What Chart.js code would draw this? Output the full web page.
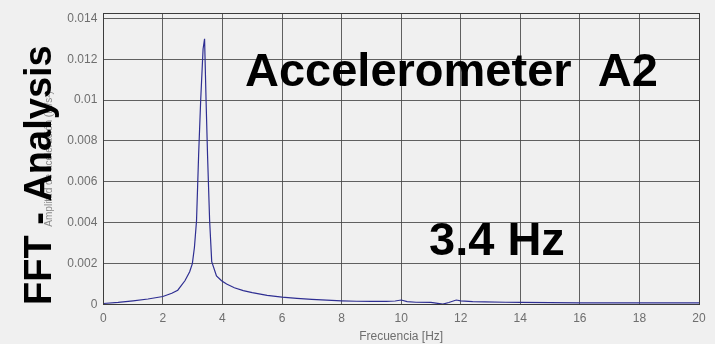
<!DOCTYPE html>
<html>
<head>
<meta charset="utf-8">
<script src="https://cdn.jsdelivr.net/npm/chart.js@4.4.1/dist/chart.umd.min.js"></script>
<style>
  html, body { margin: 0; padding: 0; background: #f0f0f0; }
  #wrap { width: 715px; height: 344px; position: relative; }
</style>
</head>
<body>
<div id="wrap"><canvas id="fft"></canvas></div>
<script>
// Spectrum of accelerometer A2: frequency (Hz) and FFT amplitude
const freqHz = [
  0, 0.5, 1.0, 1.5, 2.0, 2.3, 2.5, 2.74, 2.9, 2.99, 3.06, 3.13, 3.20, 3.27,
  3.35, 3.40, 3.45, 3.50, 3.57, 3.64, 3.8, 3.97, 4.14, 4.4, 4.7, 5.0, 5.5,
  6.0, 6.5, 7.0, 7.5, 8.0, 8.5, 9.0, 9.5, 9.8, 10.0, 10.2, 10.5, 11.0, 11.4,
  11.6, 11.85, 12.0, 12.4, 12.8, 13.5, 14.0, 15.0, 16.0, 18.0, 20.0
];
const amplitude = [
  0.00005, 0.0001, 0.00018, 0.00027, 0.00039, 0.00055, 0.0007, 0.00116, 0.0016, 0.0020, 0.0028, 0.0041, 0.0073, 0.0100,
  0.0125, 0.0130, 0.0100, 0.0073, 0.0041, 0.0021, 0.0014, 0.00116, 0.0010, 0.00082, 0.00068, 0.00058, 0.00045,
  0.00036, 0.0003, 0.00025, 0.00021, 0.00018, 0.00016, 0.00015, 0.00015, 0.00017, 0.00022, 0.00014, 0.00011, 0.0001, 0.00002,
  0.0001, 0.00022, 0.00018, 0.00014, 0.00013, 0.00011, 0.0001, 0.00009, 0.00008, 0.00008, 0.00008
];
const peakHz = 3.4;
const xTicks = [0, 2, 4, 6, 8, 10, 12, 14, 16, 18, 20];
const yTicks = [0, 0.002, 0.004, 0.006, 0.008, 0.01, 0.012, 0.014];

const chartTitle = 'Accelerometer  A2';
const sideTitle = 'FFT - Analysis';
const peakLabel = peakHz + ' Hz';

// Box around the plotting area plus the overlaid slide captions
const overlay = {
  id: 'overlay',
  afterDatasetsDraw(chart) {
    const { ctx, chartArea: a } = chart;
    ctx.save();
    ctx.strokeStyle = '#3c3c3c';
    ctx.lineWidth = 1;
    ctx.strokeRect(Math.round(a.left) + 0.5, Math.round(a.top) + 0.5,
                   Math.round(a.right - a.left), Math.round(a.bottom - a.top));
    ctx.restore();
  },
  afterDraw(chart) {
    const { ctx } = chart;
    ctx.save();
    ctx.fillStyle = '#000';
    ctx.textBaseline = 'alphabetic';
    ctx.textAlign = 'left';
    ctx.font = 'bold 47px "Liberation Sans", Arial, sans-serif';
    ctx.fillText(chartTitle, 245, 86);
    ctx.fillText(peakLabel, 429, 255);
    ctx.translate(50.5, 305);
    ctx.rotate(-Math.PI / 2);
    ctx.font = 'bold 38px "Liberation Sans", Arial, sans-serif';
    ctx.fillText(sideTitle, 0, 0);
    ctx.restore();
  }
};

const gridColor = 'rgba(70,70,70,0.85)';
const tickFont = { family: '"Liberation Sans", Arial, sans-serif', size: 12 };

new Chart(document.getElementById('fft'), {
  type: 'line',
  data: {
    datasets: [{
      data: freqHz.map((f, i) => ({ x: f, y: amplitude[i] })),
      borderColor: '#2e2e92',
      borderWidth: 1.2,
      pointRadius: 0,
      tension: 0,
      fill: false
    }]
  },
  options: {
    responsive: true,
    maintainAspectRatio: false,
    animation: false,
    layout: { padding: { left: 0, right: 16, top: 9, bottom: 0 } },
    plugins: { legend: { display: false }, tooltip: { enabled: false } },
    scales: {
      x: {
        type: 'linear',
        min: 0, max: 20,
        afterBuildTicks: s => { s.ticks = xTicks.map(v => ({ value: v })); },
        afterFit: s => { s.height = 39.5; },
        grid: { color: gridColor, drawTicks: false, lineWidth: 1 },
        border: { display: false },
        ticks: { color: '#6e6e6e', font: tickFont, padding: 7, maxRotation: 0,
                 callback: v => String(v) },
        title: { display: true, text: 'Frecuencia [Hz]', color: '#6e6e6e',
                 font: { family: '"Liberation Sans", Arial, sans-serif', size: 12 },
                 padding: { top: 0, bottom: 0 } }
      },
      y: {
        min: 0, max: 0.01425,
        afterBuildTicks: s => { s.ticks = yTicks.map(v => ({ value: v })); },
        afterFit: s => { s.width = 103.3; },
        grid: { color: gridColor, drawTicks: false, lineWidth: 1 },
        border: { display: false },
        ticks: { color: '#6e6e6e', font: tickFont, padding: 6,
                 callback: v => String(parseFloat(v.toFixed(3))) },
        title: { display: true, text: 'Amplitud de aceleración (m/s²)', color: '#8a8a8a',
                 font: { family: '"Liberation Sans", Arial, sans-serif', size: 10 },
                 padding: { top: 43, bottom: 0 } }
      }
    }
  },
  plugins: [overlay]
});
</script>
</body>
</html>
